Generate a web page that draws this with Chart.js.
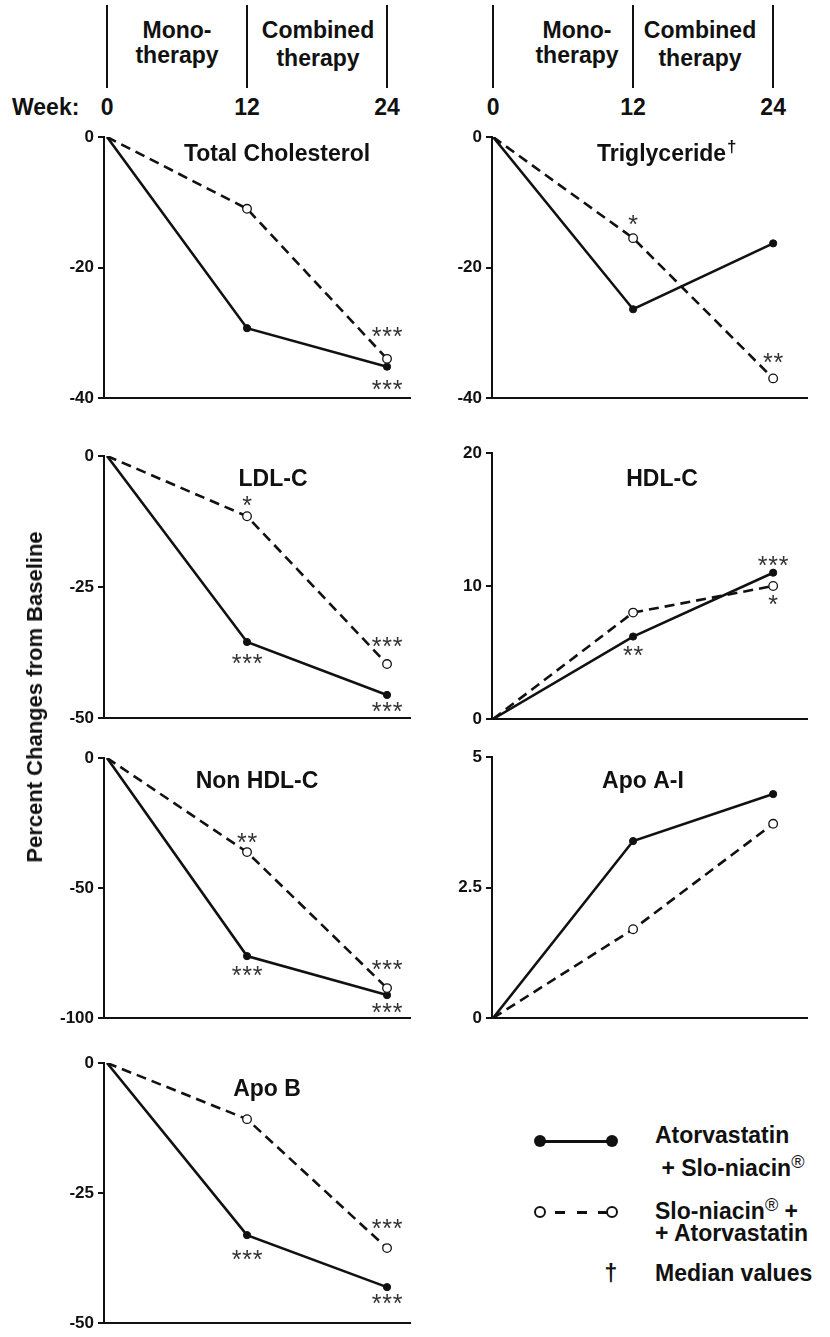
<!DOCTYPE html>
<html><head><meta charset="utf-8">
<script src="https://cdn.jsdelivr.net/npm/chart.js@4.4.0/dist/chart.umd.min.js"></script>
<style>
html,body{margin:0;padding:0;background:#fff}
body{width:830px;height:1337px;position:relative;overflow:hidden;font-family:"Liberation Sans",Arial,sans-serif;color:#111}
.t{position:absolute;font-weight:bold;font-size:23px;line-height:23px;white-space:nowrap}
.c{transform:translateX(-50%)}
.vl{position:absolute;width:2px;background:#111}
.reg{font-weight:normal;font-size:18px;vertical-align:8px}
</style></head>
<body>
<script>
// ---------------- data ----------------
const weeks = [0, 12, 24];
const seriesNames = ['Atorvastatin + Slo-niacin®', 'Slo-niacin® + Atorvastatin'];

const tcAtorva     = [0, -29.3, -35.2];
const tcNiacin     = [0, -11.0, -34.0];
const tgAtorva     = [0, -26.4, -16.3];
const tgNiacin     = [0, -15.5, -37.0];
const ldlAtorva    = [0, -35.5, -45.6];
const ldlNiacin    = [0, -11.5, -39.7];
const hdlAtorva    = [0, 6.2, 11.0];
const hdlNiacin    = [0, 8.0, 10.0];
const nonHdlAtorva = [0, -76.2, -91.2];
const nonHdlNiacin = [0, -36.2, -88.5];
const apoAAtorva   = [0, 3.39, 4.29];
const apoANiacin   = [0, 1.70, 3.72];
const apoBAtorva   = [0, -33.1, -43.1];
const apoBNiacin   = [0, -10.8, -35.6];

const tcTicks     = [-40, -20, 0];
const tgTicks     = [-40, -20, 0];
const ldlTicks    = [-50, -25, 0];
const hdlTicks    = [0, 10, 20];
const nonHdlTicks = [-100, -50, 0];
const apoATicks   = [0, 2.5, 5];
const apoBTicks   = [-50, -25, 0];

// significance marks: [series (0 = atorvastatin first, 1 = slo-niacin first), week index, stars]
const tcSig     = [[1, 2, '***'], [0, 2, '***']];
const tgSig     = [[1, 1, '*'], [1, 2, '**']];
const ldlSig    = [[1, 1, '*'], [0, 1, '***'], [1, 2, '***'], [0, 2, '***']];
const hdlSig    = [[0, 1, '**'], [0, 2, '***'], [1, 2, '*']];
const nonHdlSig = [[1, 1, '**'], [0, 1, '***'], [1, 2, '***'], [0, 2, '***']];
const apoASig   = [];
const apoBSig   = [[0, 1, '***'], [1, 2, '***'], [0, 2, '***']];

// ---------------- layout (pixels) ----------------
const cols = [
  {axis: 104, end: 410, xmin: -0.26, xmax: 25.97},
  {axis: 492, end: 807, xmin: -0.09, xmax: 26.9}
];
// label offsets (px from point to star centre)
const sigOffsets = {
  tc: [-27, 18], tg: [-18, -20], ldl: [-15, 17, -22, 12],
  hdl: [14, -12, 14], nonHdl: [-14, 15, -23, 13], apoA: [], apoB: [20, -24, 12]
};
const panels = [
  {key:'tc', title:'Total Cholesterol', col:0, top:137, bottom:398, a:tcAtorva, n:tcNiacin, ticks:tcTicks, sig:tcSig, tx:277, ty:155},
  {key:'tg', title:'Triglyceride', dagger:true, col:1, top:137, bottom:398, a:tgAtorva, n:tgNiacin, ticks:tgTicks, sig:tgSig, tx:597, ty:155, left:true},
  {key:'ldl', title:'LDL-C', col:0, top:456, bottom:718, a:ldlAtorva, n:ldlNiacin, ticks:ldlTicks, sig:ldlSig, tx:273, ty:480},
  {key:'hdl', title:'HDL-C', col:1, top:453, bottom:719, a:hdlAtorva, n:hdlNiacin, ticks:hdlTicks, sig:hdlSig, tx:662, ty:480},
  {key:'nonHdl', title:'Non HDL-C', col:0, top:758, bottom:1018, a:nonHdlAtorva, n:nonHdlNiacin, ticks:nonHdlTicks, sig:nonHdlSig, tx:257, ty:782},
  {key:'apoA', title:'Apo A-I', col:1, top:757, bottom:1018, a:apoAAtorva, n:apoANiacin, ticks:apoATicks, sig:apoASig, tx:643, ty:782},
  {key:'apoB', title:'Apo B', col:0, top:1063, bottom:1323, a:apoBAtorva, n:apoBNiacin, ticks:apoBTicks, sig:apoBSig, tx:267, ty:1090}
];

const FONT = '"Liberation Sans", Arial, sans-serif';
Chart.defaults.font.family = FONT;
const INK = '#111';

function makePanelPlugin(p) {
  return {
    id: 'panelDeco',
    afterDatasetsDraw(chart) {
      const ctx = chart.ctx;
      ctx.save();
      ctx.fillStyle = INK;
      ctx.font = 'bold 23px ' + FONT;
      ctx.textBaseline = 'middle';
      const tx = p.tx - p.cx, ty = p.ty - p.cy;
      if (p.left) {
        ctx.textAlign = 'left';
        ctx.fillText(p.title, tx, ty);
        if (p.dagger) {
          const w = ctx.measureText(p.title).width;
          ctx.font = 'bold 17px ' + FONT;
          ctx.fillText('\u2020', tx + w + 1, ty - 8);
        }
      } else {
        ctx.textAlign = 'center';
        ctx.fillText(p.title, tx, ty);
      }
      const fs = 25;
      ctx.font = fs + 'px ' + FONT;
      ctx.fillStyle = '#333';
      ctx.textAlign = 'center';
      ctx.textBaseline = 'alphabetic';
      const m = ctx.measureText('*');
      const adj = (m.actualBoundingBoxAscent - m.actualBoundingBoxDescent) / 2;
      const offs = sigOffsets[p.key];
      p.sig.forEach((s, i) => {
        const el = chart.getDatasetMeta(s[0]).data[s[1]];
        if (!el) return;
        const cy = el.y + offs[i];
        const n = s[2].length;
        for (let k = 0; k < n; k++) {
          ctx.fillText('*', el.x + (k - (n - 1) / 2) * 10.5, cy + adj);
        }
      });
      ctx.restore();
    }
  };
}

const charts = {};
panels.forEach(p => {
  const c = cols[p.col];
  const padL = 70, padT = 16, padB = 16, padR = 6;
  const w = (c.end - c.axis) + padL + padR;
  const h = (p.bottom - p.top) + padT + padB;
  p.cx = c.axis - padL; p.cy = p.top - padT;
  const cv = document.createElement('canvas');
  cv.width = w; cv.height = h;
  cv.style.cssText = `position:absolute;left:${p.cx}px;top:${p.cy}px;width:${w}px;height:${h}px`;
  document.body.appendChild(cv);
  const step = p.ticks[1] - p.ticks[0];
  const ch = new Chart(cv, {
    type: 'line',
    data: {
      datasets: [
        {
          label: seriesNames[0],
          data: weeks.map((wk, i) => ({x: wk, y: p.a[i]})),
          borderColor: INK, borderWidth: 2.6,
          pointRadius: [0, 3.6, 3.6], pointBackgroundColor: INK, pointBorderColor: INK, pointBorderWidth: 1,
          tension: 0, order: 1
        },
        {
          label: seriesNames[1],
          data: weeks.map((wk, i) => ({x: wk, y: p.n[i]})),
          borderColor: INK, borderWidth: 2.6, borderDash: [10, 6],
          pointRadius: [0, 4.3, 4.3], pointBackgroundColor: '#fff', pointBorderColor: INK, pointBorderWidth: 1.3,
          tension: 0, order: 0
        }
      ]
    },
    options: {
      responsive: false, animation: false, devicePixelRatio: 1,
      layout: {padding: {left: 0, top: padT, right: padR, bottom: padB}},
      plugins: {legend: {display: false}, tooltip: {enabled: false}, title: {display: false}},
      scales: {
        x: {
          type: 'linear', min: c.xmin, max: c.xmax,
          ticks: {display: false}, grid: {display: false},
          border: {display: true, color: INK, width: 2},
          afterFit: s => { s.height = 0; }
        },
        y: {
          min: p.ticks[0], max: p.ticks[p.ticks.length - 1],
          afterBuildTicks: s => { s.ticks = p.ticks.map(v => ({value: v})); },
          ticks: {stepSize: step, font: {size: 17, weight: 'bold'}, color: INK, padding: 4},
          grid: {drawOnChartArea: false, drawTicks: true, tickLength: 6, color: INK, lineWidth: 2},
          border: {display: true, color: INK, width: 2},
          afterFit: s => { s.width = padL; }
        }
      }
    },
    plugins: [makePanelPlugin(p)]
  });
  ch.$panel = p;
  charts[p.key] = ch;
});

// ---------------- header (positions from the charts' x scales) ----------------
function addText(html, x, capY, center, extra) {
  const d = document.createElement('div');
  d.className = 't' + (center ? ' c' : '');
  d.innerHTML = html;
  d.style.left = x + 'px';
  d.style.top = (capY - 11.3) + 'px';
  if (extra) d.style.cssText += extra;
  document.body.appendChild(d);
  return d;
}
const phaseTop = ['Mono-', 'Combined'];
const phaseBottom = ['therapy', 'therapy'];
const headerCharts = [charts.tc, charts.tg];
const phaseX = [[177, 318], [577, 700]];
const phaseY2 = [55, 58];
headerCharts.forEach((ch, ci) => {
  const off = ch.$panel.cx;
  weeks.forEach(wk => {
    const x = ch.scales.x.getPixelForValue(wk) + off;
    const l = document.createElement('div');
    l.className = 'vl';
    l.style.left = (x - 1) + 'px'; l.style.top = '5px'; l.style.height = '83px';
    document.body.appendChild(l);
    addText(String(wk), x, 107, true);
  });
  phaseTop.forEach((s, i) => addText(s, phaseX[ci][i], 30, true));
  phaseBottom.forEach((s, i) => addText(s, phaseX[ci][i], phaseY2[i], true));
});
addText('Week:', 12, 107, false);

// ---------------- y-axis title ----------------
const yt = document.createElement('div');
yt.textContent = 'Percent Changes from Baseline';
yt.style.cssText = `position:absolute;left:35px;top:697px;transform:translate(-50%,-50%) rotate(-90deg);white-space:nowrap;font:bold 22px ${FONT};line-height:22px;color:${INK}`;
document.body.appendChild(yt);

// ---------------- legend ----------------
function box(css) { const d = document.createElement('div'); d.style.cssText = 'position:absolute;' + css; document.body.appendChild(d); return d; }
box(`left:540px;top:1139.5px;width:72px;height:3px;background:${INK}`);
box(`left:534px;top:1135px;width:12px;height:12px;border-radius:50%;background:${INK}`);
box(`left:606px;top:1135px;width:12px;height:12px;border-radius:50%;background:${INK}`);
[555, 577, 598].forEach(x => box(`left:${x}px;top:1210.5px;width:10px;height:3px;background:${INK}`));
box(`left:534px;top:1206px;width:8px;height:8px;border-radius:50%;border:2.5px solid ${INK};background:#fff`);
box(`left:606px;top:1206px;width:8px;height:8px;border-radius:50%;border:2.5px solid ${INK};background:#fff`);
addText('Atorvastatin', 655, 1135, false);
addText('&nbsp;+ Slo-niacin<span class="reg">®</span>', 655, 1162, false);
addText('Slo-niacin<span class="reg">®</span> +', 655, 1205, false);
addText('+ Atorvastatin', 655, 1233, false);
addText('\u2020', 611, 1273, true);
addText('Median values', 655, 1273, false);
</script>
</body></html>
